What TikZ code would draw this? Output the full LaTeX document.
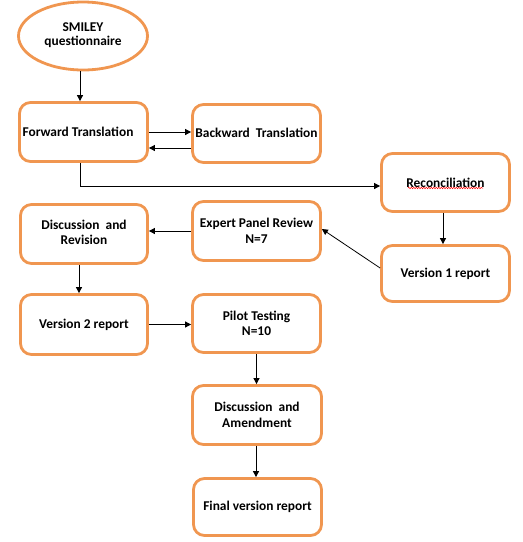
\documentclass[tikz,border=0pt]{standalone}
\usepackage{fontspec}
\setmainfont{Carlito}
\usetikzlibrary{arrows.meta,shapes.geometric,decorations.pathmorphing}
\definecolor{boxorange}{RGB}{240,150,80}
\begin{document}
\begin{tikzpicture}[x=1pt,y=-1pt,
  every node/.style={font=\fontsize{13.4}{15.5}\selectfont\bfseries, align=center, inner sep=0pt},
  stepbox/.style={draw=boxorange, line width=2.8pt, rounded corners=11pt, minimum width=128pt, minimum height=58pt},
  startoval/.style={draw=boxorange, line width=2.8pt, ellipse, minimum width=129pt, minimum height=68pt},
  link/.style={draw=black, line width=0.8pt, -{Triangle[length=6pt,width=6pt]}}]
\useasboundingbox (0,0) rectangle (523,542);
\node[startoval] (smiley) at (83,36) {\raisebox{4pt}{\shortstack{SMILEY\\[1pt]questionnaire}}};
\node[stepbox, minimum height=59pt] (fwd) at (83.5,132) {\hspace*{-11pt}Forward Translation};
\node[stepbox] (bwd) at (256.5,133.5) {\raisebox{1.5pt}{Backward\ \ Translation}};
\node[stepbox] (rec) at (445.5,182.5) {Reconciliation};
\node[stepbox, minimum height=56pt] (v1) at (445.5,273.5) {Version 1 report};
\node[stepbox, minimum height=59pt] (exp) at (256.5,231) {Expert Panel Review\\N=7};
\node[stepbox, minimum width=127pt, minimum height=59pt] (dr) at (84,234) {\raisebox{3pt}{\shortstack{Discussion\ \ and\\[2pt]Revision}}};
\node[stepbox, minimum width=127pt, minimum height=60pt] (v2) at (84,324.5) {Version 2 report};
\node[stepbox] (pil) at (256.5,323.5) {\shortstack{Pilot Testing\\[1pt]N=10}};
\node[stepbox, minimum width=129pt, minimum height=59pt] (da) at (257,415) {Discussion\ \ and\\Amendment};
\node[stepbox, minimum height=57pt] (fin) at (257.5,507) {Final version report};
% spell-check underline
\coordinate (sqa) at (408,188);
\coordinate (sqb) at (483,188);
\draw[red, line width=0.5pt, decorate, decoration={snake, amplitude=0.7pt, segment length=2.5pt}] (sqa) -- (sqb);
% connectors
\coordinate (backstart) at ([yshift=-14.5pt]bwd.west);
\draw[link] ([xshift=-3pt]smiley.south) -- ([xshift=-3.5pt]fwd.north);
\draw[link] (fwd.east) -- (bwd.west |- fwd.east);
\draw[link] (backstart) -- (fwd.east |- backstart);
\draw[link] ([xshift=-3.5pt]fwd.south) |- ([yshift=-3.5pt]rec.west);
\draw[link] ([xshift=-2.5pt]rec.south) -- ([xshift=-2.5pt]v1.north);
\draw[link] ([yshift=5.5pt]v1.west) -- ([yshift=2pt]exp.east);
\draw[link] (exp.west) -- (dr.east |- exp.west);
\draw[link] ([xshift=-5pt]dr.south) -- ([xshift=-5pt]v2.north);
\draw[link] (v2.east) -- (pil.west |- v2.east);
\draw[link] (pil.south) -- (da.north -| pil.south);
\draw[link] ([xshift=-1pt]da.south) -- ([xshift=-1.5pt]fin.north);
\end{tikzpicture}
\end{document}
